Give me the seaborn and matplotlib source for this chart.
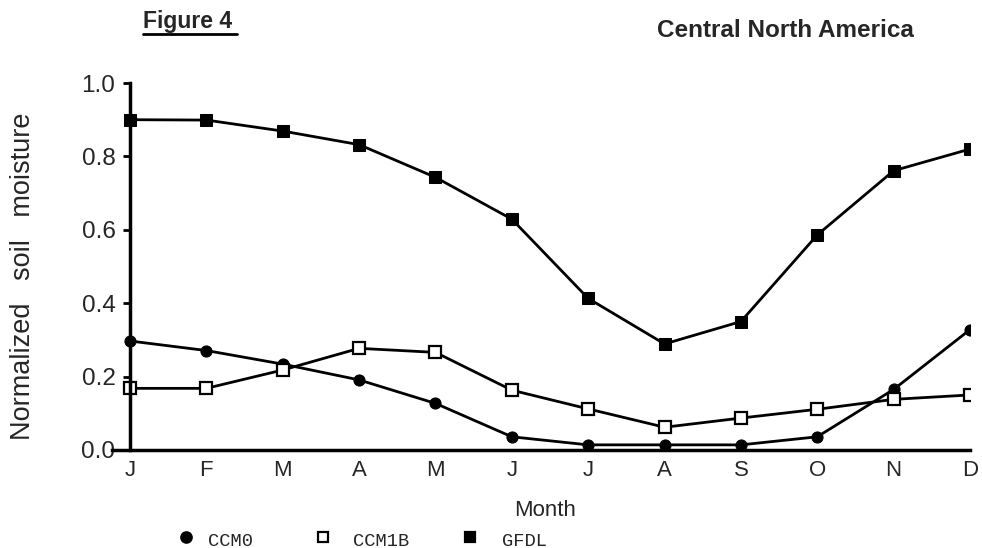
import matplotlib
matplotlib.use("Agg")
import matplotlib.pyplot as plt
from matplotlib.lines import Line2D
import seaborn as sns
import pandas as pd

months = ["J", "F", "M", "A", "M", "J", "J", "A", "S", "O", "N", "D"]
ccm0 = [0.297, 0.271, 0.234, 0.191, 0.127, 0.036, 0.014, 0.014, 0.014, 0.036, 0.165, 0.328]
ccm1b = [0.168, 0.168, 0.218, 0.277, 0.266, 0.163, 0.112, 0.062, 0.087, 0.111, 0.138, 0.150]
gfdl = [0.900, 0.899, 0.869, 0.832, 0.743, 0.629, 0.413, 0.289, 0.350, 0.586, 0.761, 0.820]
yticks = [0.0, 0.2, 0.4, 0.6, 0.8, 1.0]

sns.set_theme(style="white")
plt.rcParams["font.family"] = ["Liberation Sans", "DejaVu Sans"]

df = pd.DataFrame({
    "idx": list(range(len(months))) * 3,
    "value": ccm0 + ccm1b + gfdl,
    "series": ["CCM0"] * 12 + ["CCM1B"] * 12 + ["GFDL"] * 12,
})

fig = plt.figure(figsize=(9.82, 5.48), dpi=100)
ax = fig.add_axes([112 / 982, 1 - 450 / 548, 858 / 982, 367 / 548])

styles = {
    "CCM0": dict(marker="o", markersize=8, markerfacecolor="black", markeredgecolor="black"),
    "CCM1B": dict(marker="s", markersize=8.5, markerfacecolor="white", markeredgecolor="black", markeredgewidth=1.6),
    "GFDL": dict(marker="s", markersize=8, markerfacecolor="black", markeredgecolor="black"),
}
for name, st in styles.items():
    sub = df[df["series"] == name]
    sns.lineplot(data=sub, x="idx", y="value", ax=ax, color="black", linewidth=2.0,
                 legend=False, zorder=3, **st)

ax.set_xlim(-0.236, 11)
ax.set_ylim(0, 1.0)
ax.spines["left"].set_position(("data", 0))
for s in ["top", "right"]:
    ax.spines[s].set_visible(False)
for s in ["left", "bottom"]:
    ax.spines[s].set_color("black")
    ax.spines[s].set_linewidth(2.5)
    ax.spines[s].set_zorder(4)

ax.set_yticks(yticks)
ax.set_yticklabels([f"{v:.1f}" for v in yticks], fontsize=17.5)
ax.set_xticks(range(len(months)))
ax.set_xticklabels(months, fontsize=16)
ax.tick_params(axis="y", direction="out", length=5, width=2, color="black", pad=5.5, left=True)
ax.tick_params(axis="x", length=0, pad=7)
ax.set_xlabel("")
ax.set_ylabel("")

fig.text(23 / 982, 1 - 276 / 548, "Normalized   soil   moisture", rotation=90,
         ha="center", va="center", fontsize=19.5)
fig.text(545 / 982, 1 - 511 / 548, "Month", ha="center", va="center", fontsize=16)

fig.text(143 / 982, 1 - 28 / 548, "Figure 4", ha="left", va="baseline",
         fontsize=16.5, fontweight="bold")
fig.add_artist(Line2D([143 / 982, 237 / 982], [1 - 33.5 / 548, 1 - 33.5 / 548],
                      color="black", linewidth=2.0, transform=fig.transFigure))
fig.text(785 / 982, 1 - 37 / 548, "Central North America", ha="center", va="baseline",
         fontsize=17.5, fontweight="bold")

mono = dict(family=["Liberation Mono", "DejaVu Sans Mono"], fontsize=13.5)
leg_items = [("CCM0", 186, 208), ("CCM1B", 323, 353), ("GFDL", 470, 502)]
for name, mx, tx in leg_items:
    st = styles[name]
    fig.add_artist(Line2D([mx / 982], [1 - 537 / 548], transform=fig.transFigure,
                          linestyle="none", marker=st["marker"], markersize=7.5,
                          markerfacecolor=st["markerfacecolor"], markeredgecolor="black",
                          markeredgewidth=1.6))
    fig.text(tx / 982, 1 - 541 / 548, name, ha="left", va="center", **mono)

fig.savefig("out.png", dpi=100, facecolor="white")
